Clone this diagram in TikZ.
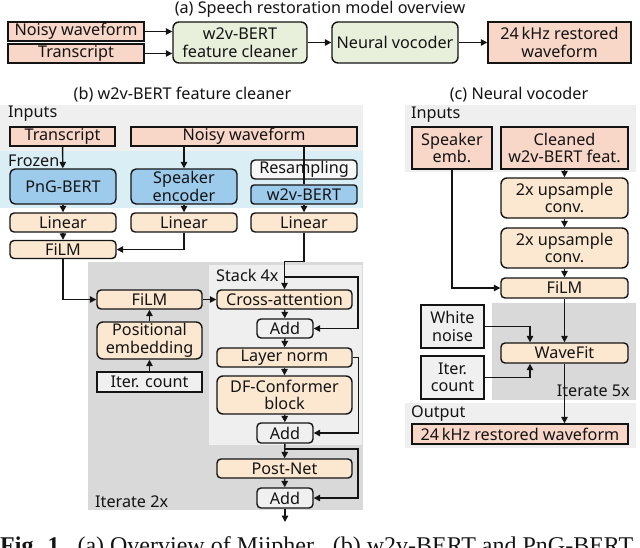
\documentclass[tikz,border=0pt]{standalone}
\usepackage{fontspec}
\setmainfont{Noto Sans}
\newfontfamily\capfont{Liberation Serif}
\usetikzlibrary{arrows.meta}

\definecolor{salmon}{RGB}{248,214,200}
\definecolor{peach}{RGB}{252,232,208}
\definecolor{leaf}{RGB}{232,240,220}
\definecolor{frzblue}{RGB}{157,203,236}
\definecolor{frzband}{RGB}{218,238,246}
\definecolor{lightband}{RGB}{239,239,239}
\definecolor{darkband}{RGB}{217,217,217}
\definecolor{ink}{RGB}{20,20,20}

\tikzset{
	every node/.style={font=\fontsize{16.2}{17.5}\selectfont, text=ink},
	base/.style={draw=ink, line width=1.4pt, inner sep=0pt, align=center},
	sz/.style 2 args={minimum width=#1pt, minimum height=#2pt},
	inbox/.style={base, fill=salmon},
	blk/.style={base, fill=peach, rounded corners=4pt},
	frz/.style={base, fill=frzblue, rounded corners=5pt},
	grn/.style={base, fill=leaf, rounded corners=6pt},
	gbox/.style={base, fill=black!6},
	ln/.style={draw=ink, line width=1.4pt},
	arr/.style={ln, -{Triangle[length=6.5pt,width=6.5pt]}},
	lbl/.style={anchor=west, inner sep=0pt},
}

\begin{document}
\begin{tikzpicture}[x=1pt, y=-1pt]
	\useasboundingbox (0,0) rectangle (640,547);

	% (a) overview
	\node (ttlA) at (320,9) {(a) Speech restoration model overview};
	\node[inbox, sz={136}{19}] (aNoisy) at (76,31.5) {Noisy waveform};
	\node[inbox, sz={136}{19}] (aTrans) at (76,53.5) {Transcript};
	\node[grn, sz={134}{41}] (aClean) at (240,42.5) {w2v-BERT\\feature cleaner};
	\node[grn, sz={126}{41}] (aVoc) at (395,42.5) {Neural vocoder};
	\node[inbox, sz={143}{41}] (aOut) at (559.5,42.5) {24\,kHz restored\\waveform};
	\draw[arr] (aNoisy.east) -- (aNoisy.east -| aClean.west);
	\draw[arr] (aTrans.east) -- (aTrans.east -| aClean.west);
	\draw[arr] (aClean) -- (aVoc);
	\draw[arr] (aVoc) -- (aOut);

	% (b) feature cleaner
	\node (ttlB) at (182.5,95) {(b) w2v-BERT feature cleaner};
	\fill[lightband] (0,105) rectangle (363,151);
	\fill[frzband] (0,151) rectangle (363,208);
	\fill[darkband] (88,262) rectangle (363,510);
	\fill[lightband] (209,265) rectangle (362,445);
	\node[lbl] (inB) at (8,114) {Inputs};
	\node[lbl] (frzB) at (8,161) {Frozen};
	\node[lbl] (stk) at (216,275) {Stack 4x};
	\node[lbl] (itB) at (95,502) {Iterate 2x};

	\node[inbox, sz={105}{19}] (bTrans) at (62.5,136.5) {Transcript};
	\node[inbox, sz={226}{19}] (bNoisy) at (244,136.5) {Noisy waveform};
	\node[frz, sz={106}{35}] (png) at (63,186.5) {PnG-BERT};
	\node[frz, sz={106}{35}] (spk) at (184,186.5) {Speaker\\encoder};
	\node[base, fill=black!3, rounded corners=4pt, sz={106}{19}] (resamp) at (304,169.5) {Resampling};
	\node[frz, rounded corners=3pt, sz={106}{19}] (w2v) at (304,194.5) {w2v-BERT};
	\node[blk, sz={106}{19}] (lin1) at (63,222.5) {Linear};
	\node[blk, sz={106}{19}] (lin2) at (184,222.5) {Linear};
	\node[blk, sz={106}{19}] (lin3) at (304,222.5) {Linear};
	\node[blk, sz={106}{18}] (film1) at (63,249.5) {FiLM};

	\node[blk, sz={105}{19}] (film2) at (149.5,299.5) {FiLM};
	\node[blk, rounded corners=6pt, sz={105}{37}] (pos) at (149.5,340.5) {Positional\\embedding};
	\node[gbox, sz={105}{20}] (iter) at (149.5,382) {Iter. count};
	\node[blk, sz={135}{19}] (xattn) at (284.5,299.5) {Cross-attention};
	\node[base, fill=black!6, rounded corners=4pt, sz={56}{19}] (add1) at (285,328.5) {Add};
	\node[blk, sz={135}{19}] (lnorm) at (284.5,357.5) {Layer norm};
	\node[blk, rounded corners=6pt, sz={135}{38}] (dfc) at (284.5,395) {DF-Conformer\\block};
	\node[base, fill=black!6, rounded corners=4pt, sz={56}{20}] (add2) at (285,433) {Add};
	\node[blk, sz={135}{19}] (post) at (284.5,468.5) {Post-Net};
	\node[base, fill=black!6, rounded corners=4pt, sz={56}{20}] (add3) at (285,498) {Add};
	\coordinate (outB) at (285,522);
	\coordinate (br1) at (284.5,277);
	\coordinate (br2) at (284.5,449);

	\draw[arr] (bTrans) -- (png);
	\draw[arr] (bNoisy.south -| spk.north) -- (spk.north);
	\draw[ln] (bNoisy.south -| w2v.north) -- (w2v.north);
	\draw[arr] (png) -- (lin1);
	\draw[arr] (spk) -- (lin2);
	\draw[arr] (w2v) -- (lin3);
	\draw[arr] (lin1) -- (film1);
	\draw[arr] (lin2.south) |- (film1.east);
	\draw[arr] (lin3.south) -- ++(0,29) -| (xattn.north);
	\draw[arr] (br1) -- ++(73.5,0) |- (add1.east);
	\draw[arr] (film1.south) |- (film2.west);
	\draw[arr] (film2) -- (xattn);
	\draw[arr] (iter) -- (pos);
	\draw[arr] (pos) -- (film2);
	\draw[arr] (xattn) -- (add1);
	\draw[arr] (add1) -- (lnorm);
	\draw[arr] (lnorm) -- (dfc);
	\draw[arr] (dfc) -- (add2);
	\draw[arr] (lnorm.east) -- ++(6,0) |- (add2.east);
	\draw[arr] (add2) -- (post);
	\draw[arr] (br2) -- ++(73.5,0) |- (add3.east);
	\draw[arr] (post) -- (add3);
	\draw[arr] (add3) -- (outB);

	% (c) neural vocoder
	\node (ttlC) at (519,95) {(c) Neural vocoder};
	\fill[lightband] (405,105) rectangle (636,172);
	\fill[darkband] (492,303) rectangle (636,400);
	\fill[lightband] (405,403) rectangle (636,448);
	\node[lbl] (inC) at (411,115) {Inputs};
	\node[lbl, anchor=east] (itC) at (630,391) {Iterate 5x};
	\node[lbl] (outC) at (411,414) {Output};

	\node[inbox, sz={80}{42}] (spkemb) at (452,148) {Speaker\\emb.};
	\node[inbox, sz={127}{42}] (cleaned) at (564.5,148) {Cleaned\\w2v-BERT feat.};
	\node[blk, rounded corners=6pt, sz={127}{40}] (up1) at (564.5,198) {2x upsample\\conv.};
	\node[blk, rounded corners=6pt, sz={127}{40}] (up2) at (564.5,248) {2x upsample\\conv.};
	\node[blk, sz={127}{20}] (film3) at (564.5,288) {FiLM};
	\node[gbox, sz={63}{43}] (wnoise) at (452.5,326.5) {White\\noise};
	\node[gbox, sz={63}{43}] (itc) at (452.5,377.5) {Iter.\\count};
	\node[blk, sz={127}{20}] (wavefit) at (564.5,353) {WaveFit};
	\node[inbox, sz={216}{20}] (outwav) at (520,434) {24\,kHz restored waveform};

	\draw[arr] (cleaned) -- (up1);
	\draw[arr] (up1) -- (up2);
	\draw[arr] (up2) -- (film3);
	\draw[arr] (spkemb.south) |- (film3.west);
	\draw[arr] (film3) -- (wavefit);
	\draw[arr] (wnoise.east) -| ([xshift=-34.5pt]wavefit.north);
	\draw[arr] (itc.east) -| ([xshift=-34.5pt]wavefit.south);
	\draw[arr] (wavefit.south) -- (wavefit.south |- outwav.north);

	% caption, cut by the page edge
	\node[anchor=base west, inner sep=0pt, font=\capfont\fontsize{24}{26}\selectfont] (cap) at (0,553)
		{\textbf{Fig. 1.}\ \ (a) Overview of Miipher. \ (b) w2v-BERT and PnG-BERT};
\end{tikzpicture}
\end{document}
